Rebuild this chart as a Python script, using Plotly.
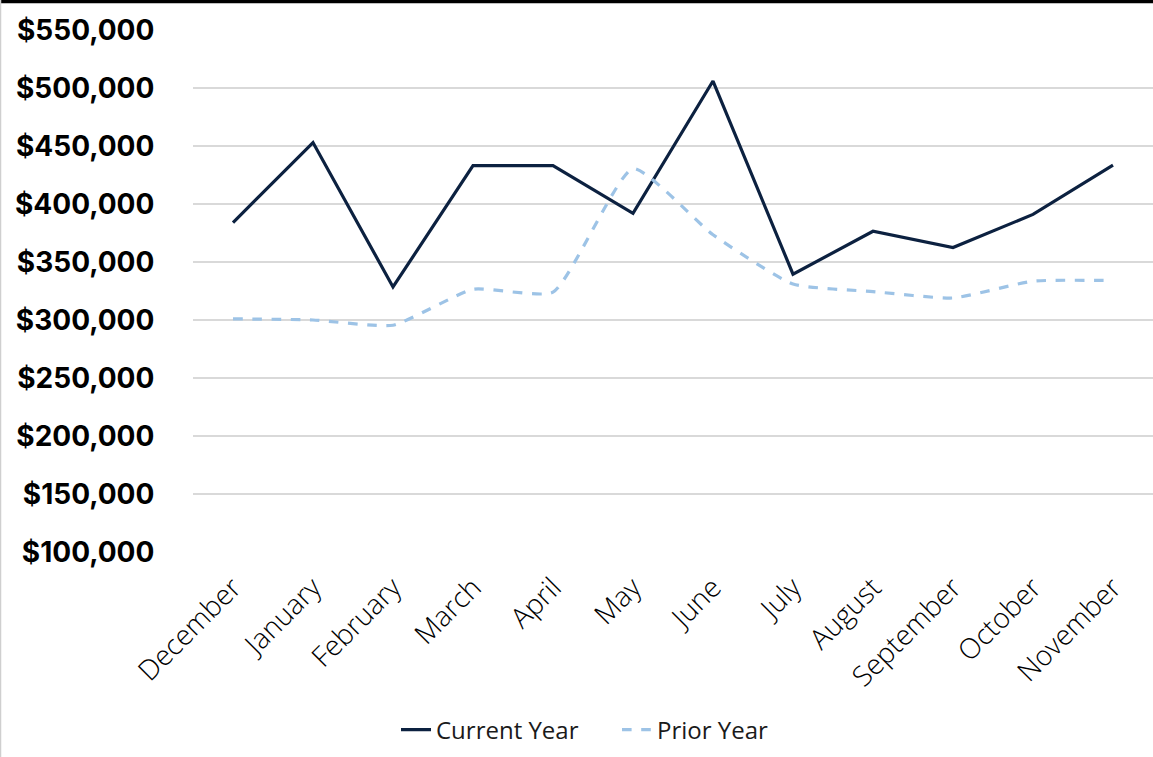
import plotly.graph_objects as go

months = ["December", "January", "February", "March", "April", "May",
          "June", "July", "August", "September", "October", "November"]
current_year = [384000, 453000, 328500, 433000, 433000, 392000,
                506000, 339500, 376500, 362500, 391000, 433500]
prior_year = [301000, 300000, 295500, 326500, 324000, 430500,
              373500, 331000, 324500, 319000, 333500, 334000]
y_ticks = [100000, 150000, 200000, 250000, 300000, 350000, 400000, 450000, 500000, 550000]
y_tick_labels = ["${:,}".format(v) for v in y_ticks]

W, H = 1153, 757
ML, MR, MT, MB = 193, 0, 30, 205
PW, PH = W - ML - MR, H - MT - MB

fig = go.Figure()
fig.add_trace(go.Scatter(
    x=months, y=current_year, name="Current Year", mode="lines",
    line=dict(color="#0c2140", width=3.2),
))
fig.add_trace(go.Scatter(
    x=months, y=prior_year, name="Prior Year", mode="lines",
    line=dict(color="#9dc3e6", width=3.2, dash="dash", shape="spline", smoothing=0.5),
))

def px_x(p):
    return (p - ML) / PW

def px_y(p):
    return (H - MB - p) / PH

fig.update_layout(
    width=W, height=H,
    margin=dict(l=ML, r=MR, t=MT, b=MB),
    paper_bgcolor="white", plot_bgcolor="white",
    font=dict(family="Open Sans", color="#000000"),
    showlegend=True,
    legend=dict(orientation="h", x=px_x(396), xanchor="left",
                y=px_y(730), yanchor="middle",
                font=dict(family="Open Sans", size=24, color="#1a1a1a"),
                entrywidth=176, entrywidthmode="pixels",
                tracegroupgap=0),
    xaxis=dict(
        type="category", range=[-0.5, 11.5], showgrid=False, zeroline=False,
        showline=False, tickangle=-45,
        tickfont=dict(family="Open Sans", size=28, color="#000000", weight=300),
        ticks="outside", ticklen=7, tickcolor="rgba(0,0,0,0)",
    ),
    yaxis=dict(
        range=[100000, 550000], tickvals=y_ticks, ticktext=y_tick_labels,
        showgrid=True, gridcolor="#d9d9d9", gridwidth=1.5, zeroline=False,
        showline=False, ticks="outside", ticklen=32, tickcolor="rgba(0,0,0,0)",
        tickfont=dict(family="Inter", size=28, color="#000000", weight="bold"),
    ),
    shapes=[
        dict(type="line", xref="paper", yref="paper",
             x0=px_x(0), x1=px_x(W), y0=px_y(1.5), y1=px_y(1.5),
             line=dict(color="#000000", width=3.5)),
        dict(type="line", xref="paper", yref="paper",
             x0=px_x(0.5), x1=px_x(0.5), y0=px_y(0), y1=px_y(H),
             line=dict(color="#cfcfcf", width=1.5)),
    ],
)

fig.write_html("out.html", config={"displayModeBar": False},
               post_script="document.body.style.margin='0';")
